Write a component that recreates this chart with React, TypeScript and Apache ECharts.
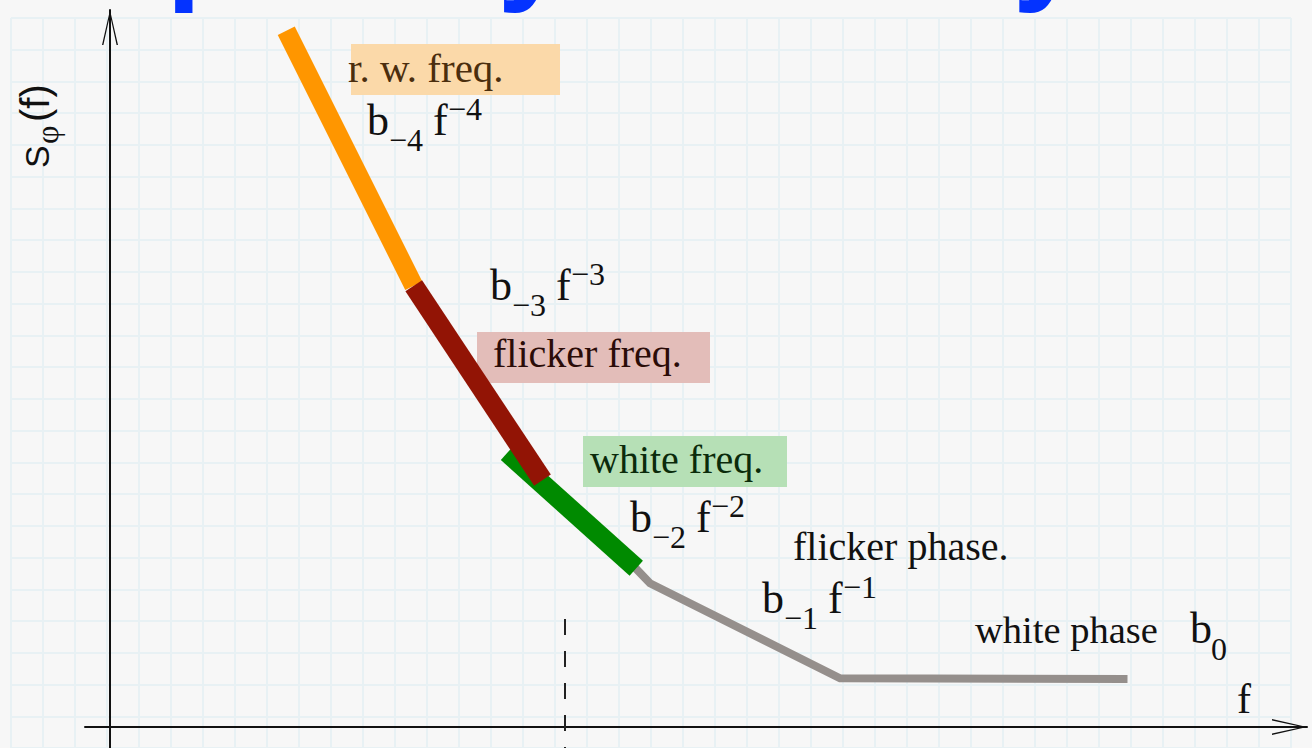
import React, { useEffect, useRef } from 'react';
import * as echarts from 'echarts';

// Power-law segments of the phase-noise spectrum, in decades (log10 f, log10 S).
const randomWalkF = [1.41, 2.43];
const randomWalkS = [11.14, 7.06];
const flickerFreqF = [2.43, 3.46];
const flickerFreqS = [7.06, 3.95];
const whiteFreqF = [3.18, 4.21];
const whiteFreqS = [4.39, 2.54];
const phaseF = [4.2, 4.32, 5.84, 8.14];
const phaseS = [2.55, 2.3, 0.78, 0.77];
// corner frequency marker
const cornerF = [3.64, 3.64];
const cornerS = [1.73, -0.34];

const X_MIN = -0.2;
const X_MAX = 9.576;
const Y_MIN = -0.336;
const Y_MAX = 11.472;

const SERIF = '"Liberation Serif", "Times New Roman", serif';
const SANS = '"Liberation Sans", Arial, sans-serif';
const ARROW = 'path://M8,0 L16,35 L14.6,35 L8,5 L1.4,35 L0,35 Z';
const PAPER = '#e8f1f4';

function txt(
  text: string,
  x: number,
  baseline: number,
  size: number,
  fill: string,
  family = SERIF,
  weight = 'normal'
) {
  const k = family === SANS ? 0.3465 : 0.3375;
  return {
    type: 'text',
    z: 5,
    silent: true,
    style: {
      text,
      x,
      y: baseline - k * size,
      font: `${weight} ${size}px ${family}`,
      fill,
      align: 'left',
      verticalAlign: 'middle',
      textAlign: 'left',
      textVerticalAlign: 'middle',
    },
  };
}

function powerLaw(x: number, baseline: number, sub: string, sup: string) {
  return [
    txt('b', x, baseline, 44, '#111'),
    txt(sub, x + 22, baseline + 16, 32, '#111'),
    txt('f', x + 66, baseline, 44, '#111'),
    txt(sup, x + 81, baseline - 15, 32, '#111'),
  ];
}

function box(x: number, y: number, w: number, h: number, fill: string) {
  return { type: 'rect', z: 1, silent: true, shape: { x, y, width: w, height: h }, style: { fill } };
}

function segment(xs: number[], ys: number[], color: string, width: number, z: number, dash?: number[]) {
  return {
    type: 'line',
    xAxisIndex: 0,
    yAxisIndex: 0,
    data: xs.map((x, i) => [x, ys[i]]),
    symbol: 'none',
    silent: true,
    z,
    lineStyle: { color, width, cap: 'butt', join: 'miter', type: dash ?? 'solid' },
  };
}

const hiddenAxis = {
  axisTick: { show: false },
  axisLabel: { show: false },
  splitLine: { show: false },
};

const option = {
  animation: false,
  backgroundColor: '#f7f7f7',
  grid: [
    { left: 85, right: 5, top: 10, bottom: 0 },
    { left: 11, top: 18, width: 1280, height: 736 },
  ],
  xAxis: [
    {
      gridIndex: 0,
      type: 'value',
      min: X_MIN,
      max: X_MAX,
      ...hiddenAxis,
      axisLine: {
        show: true,
        onZero: true,
        symbol: ['none', ARROW],
        symbolSize: [16, 35],
        symbolOffset: [0, -17.5],
        lineStyle: { color: '#111', width: 2 },
      },
    },
    {
      gridIndex: 1,
      type: 'value',
      min: 0,
      max: 40,
      interval: 1,
      axisLine: { show: false },
      axisTick: { show: false },
      axisLabel: { show: false },
      splitLine: { show: true, lineStyle: { color: PAPER, width: 2 } },
    },
  ],
  yAxis: [
    {
      gridIndex: 0,
      type: 'value',
      min: Y_MIN,
      max: Y_MAX,
      ...hiddenAxis,
      axisLine: {
        show: true,
        onZero: true,
        symbol: ['none', ARROW],
        symbolSize: [16, 35],
        symbolOffset: [0, -17.5],
        lineStyle: { color: '#111', width: 2 },
      },
    },
    {
      gridIndex: 1,
      type: 'value',
      min: 0,
      max: 23,
      interval: 1,
      inverse: true,
      axisLine: { show: false },
      axisTick: { show: false },
      axisLabel: { show: false },
      splitLine: { show: true, lineStyle: { color: PAPER, width: 2 } },
    },
  ],
  series: [
    segment(phaseF, phaseS, '#958f8c', 8, 2),
    segment(whiteFreqF, whiteFreqS, '#008a00', 20, 3),
    segment(randomWalkF, randomWalkS, '#ff9600', 19, 4),
    segment(flickerFreqF, flickerFreqS, '#921405', 20, 5),
    segment(cornerF, cornerS, '#222', 2, 2, [16, 16]),
  ],
  graphic: [
    txt('Frequency stability', -74, -13.4, 127, '#0433ff', SANS, 'bold'),
    box(351, 44, 209, 51, '#fbd9a9'),
    txt('r. w. freq.', 348, 82, 41, '#4b2e0e'),
    box(477, 332, 233, 51, '#e3bdb9'),
    txt('flicker freq.', 493, 367, 40, '#2b0c08'),
    box(583, 436, 204, 51, '#b6e0b6'),
    txt('white freq.', 590, 473, 40, '#0b2b0b'),
    txt('flicker phase.', 793, 560, 40, '#111'),
    txt('white phase', 975, 643, 38.5, '#111'),
    txt('b', 1190, 643, 44, '#111'),
    txt('0', 1211, 660, 32, '#111'),
    txt('f', 1237, 713, 42, '#111'),
    ...powerLaw(367, 135, '\u22124', '\u22124'),
    ...powerLaw(490, 300, '\u22123', '\u22123'),
    ...powerLaw(630, 532, '\u22122', '\u22122'),
    ...powerLaw(762, 613, '\u22121', '\u22121'),
    {
      type: 'group',
      x: 49,
      y: 168,
      rotation: Math.PI / 2,
      children: [
        txt('S', 0, 0, 34, '#111', SANS),
        txt('\u03c6', 24, 9, 32, '#111'),
        txt('(f)', 46, 0, 40, '#111', SANS),
      ],
    },
  ],
};

export default function App() {
  const ref = useRef<HTMLDivElement>(null);
  useEffect(() => {
    const chart = echarts.init(ref.current!, null, { renderer: 'svg' });
    chart.setOption(option as any);
    return () => chart.dispose();
  }, []);
  return (
    <div
      ref={ref}
      style={{ position: 'fixed', left: 0, top: 0, width: 1312, height: 748 }}
    />
  );
}
